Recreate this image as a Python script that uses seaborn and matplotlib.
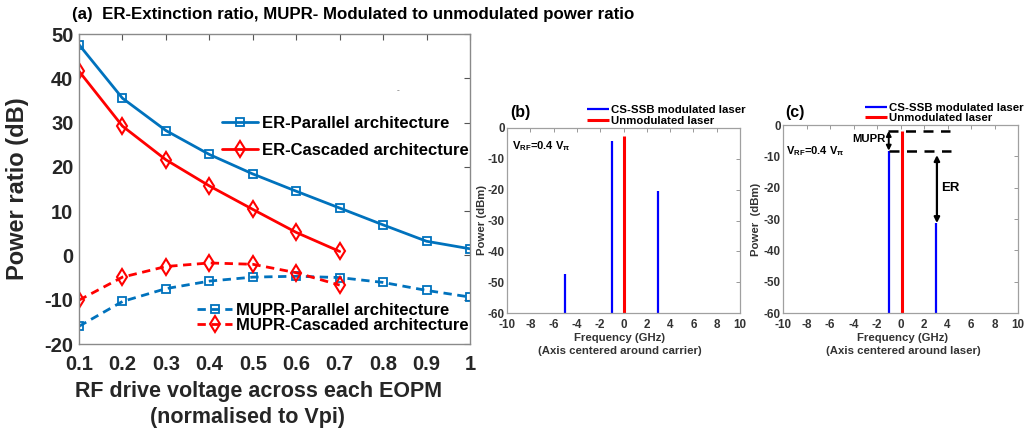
import matplotlib
matplotlib.use("Agg")
import matplotlib.pyplot as plt
import seaborn as sns

# ---------------- data ----------------
# Panel (a)
rf_voltage = [0.1, 0.2, 0.3, 0.4, 0.5, 0.6, 0.7, 0.8, 0.9, 1.0]
x_tick_labels = ["0.1", "0.2", "0.3", "0.4", "0.5", "0.6", "0.7", "0.8", "0.9", "1"]
er_parallel = [47.6, 35.5, 28.2, 22.8, 18.4, 14.5, 10.7, 6.9, 3.2, 1.5]
er_cascaded = [41.6, 29.2, 21.6, 15.7, 10.4, 5.2, 0.9]
mupr_parallel = [-16.0, -10.4, -7.5, -5.8, -4.9, -4.7, -5.0, -6.1, -7.9, -9.4]
mupr_cascaded = [-10.1, -4.9, -2.5, -1.7, -2.0, -3.9, -6.7]
series_labels = ["ER-Parallel architecture", "ER-Cascaded architecture",
                 "MUPR-Parallel architecture", "MUPR-Cascaded architecture"]

# Panel (b)
b_mod_freq = [-5, -1, 3]
b_mod_power = [-47.5, -4.2, -20.3]
b_unmod_freq = [0.05]
b_unmod_power = [-2.6]

# Panel (c)
c_mod_freq = [-1, 3]
c_mod_power = [-8.2, -31.3]
c_unmod_freq = [0.1]
c_unmod_power = [-1.9]

freq_ticks = [-10, -8, -6, -4, -2, 0, 2, 4, 6, 8, 10]
power_ticks = [-60, -50, -40, -30, -20, -10, 0]
spec_labels = ["CS-SSB modulated laser", "Unmodulated laser"]

# ---------------- style ----------------
sns.set_theme(style="white")
plt.rcParams["font.family"] = ["Liberation Sans", "DejaVu Sans"]
plt.rcParams["font.weight"] = "bold"
plt.rcParams["mathtext.fontset"] = "custom"
plt.rcParams["mathtext.rm"] = "Liberation Sans:bold"
plt.rcParams["mathtext.bf"] = "Liberation Sans:bold"
plt.rcParams["mathtext.it"] = "Liberation Sans:bold"

W, H = 1028, 432
fig = plt.figure(figsize=(W / 100, H / 100), dpi=100)
fig.patch.set_facecolor("white")

TXT = "#262626"
BLUE_A = "#0072BD"
RED = "#FF0000"
BLUE = "#0000FF"


def fx(px):
    return px / W


def fy(py):
    return 1 - py / H


# ---------------- panel (a) ----------------
ax = fig.add_axes([fx(79), fy(344), 391 / W, 310 / H])
sq = dict(marker="s", markersize=6, markerfacecolor="none", markeredgewidth=1.3)
di = dict(marker="d", markersize=8, markerfacecolor="none", markeredgewidth=1.5)
sns.lineplot(x=rf_voltage, y=er_parallel, ax=ax, color=BLUE_A, linewidth=2,
             markeredgecolor=BLUE_A, label=series_labels[0], **sq)
sns.lineplot(x=rf_voltage[:len(er_cascaded)], y=er_cascaded, ax=ax, color=RED,
             linewidth=2, markeredgecolor=RED, label=series_labels[1], **di)
sns.lineplot(x=rf_voltage, y=mupr_parallel, ax=ax, color=BLUE_A, linewidth=2,
             linestyle=(0, (3, 2)), markeredgecolor=BLUE_A, label=series_labels[2], **sq)
sns.lineplot(x=rf_voltage[:len(mupr_cascaded)], y=mupr_cascaded, ax=ax, color=RED,
             linewidth=2, linestyle=(0, (3, 2)), markeredgecolor=RED,
             label=series_labels[3], **di)

ax.set_xlim(0.1, 1.0)
ax.set_ylim(-20, 50)
ax.set_xticks(rf_voltage)
ax.set_xticklabels(x_tick_labels)
ax.set_yticks([-20, -10, 0, 10, 20, 30, 40, 50])
ax.set_yticklabels(["-20", "-10", "0", "10", "20", "30", "40", "50"])
ax.tick_params(axis="both", direction="in", top=True, right=True, length=4,
               width=0.8, color="#555555", labelsize=14.5, labelcolor=TXT)
ax.tick_params(axis="x", pad=8)
ax.tick_params(axis="y", pad=4)
for s in ax.spines.values():
    s.set_color("#8a8a8a")
    s.set_linewidth(1.0)
ax.set_xlabel("")
ax.set_ylabel("")

handles, labels = ax.get_legend_handles_labels()
if ax.get_legend() is not None:
    ax.get_legend().remove()
leg1 = ax.legend(handles[:2], labels[:2], loc="center left",
                 bbox_to_anchor=(fx(222), fy(137)), bbox_transform=fig.transFigure,
                 frameon=False, fontsize=12, handlelength=2.15, handletextpad=0.25,
                 labelspacing=0.75, borderpad=0, borderaxespad=0)
for t in leg1.get_texts():
    t.set_color("black")
ax.add_artist(leg1)
leg2 = ax.legend(handles[2:], labels[2:], loc="center left",
                 bbox_to_anchor=(fx(197), fy(318)), bbox_transform=fig.transFigure,
                 frameon=False, fontsize=12, handlelength=2.1, handletextpad=0.25,
                 labelspacing=0.0, borderpad=0, borderaxespad=0)
for t in leg2.get_texts():
    t.set_color("black")

fig.text(fx(72), fy(15), "(a)  ER-Extinction ratio, MUPR- Modulated to unmodulated power ratio",
         ha="left", va="center", fontsize=12.2, fontweight="bold", color="black")
fig.text(fx(18), fy(189), "Power ratio (dB)", rotation=90, ha="center", va="center",
         fontsize=17, fontweight="bold", color=TXT)
fig.text(fx(259), fy(392), "RF drive voltage across each EOPM", ha="center", va="center",
         fontsize=15.5, fontweight="bold", color=TXT)
fig.text(fx(247), fy(417), "(normalised to Vpi)", ha="center", va="center",
         fontsize=15.5, fontweight="bold", color=TXT)
fig.text(fx(398), fy(91), "-", ha="center", va="center", fontsize=6, color="#888888")


# ---------------- spectra panels ----------------
def spectrum(axs, mod_f, mod_p, un_f, un_p):
    axs.vlines(mod_f, -60, mod_p, colors=BLUE, linewidth=1.6, label=spec_labels[0])
    axs.vlines(un_f, -60, un_p, colors=RED, linewidth=2.2, label=spec_labels[1])
    axs.set_xlim(-10, 10)
    axs.set_ylim(-60, 0)
    axs.set_xticks(freq_ticks)
    axs.set_xticklabels([str(v) for v in freq_ticks])
    axs.set_yticks(power_ticks)
    axs.set_yticklabels([str(v) for v in power_ticks])
    axs.tick_params(axis="both", direction="in", top=True, right=True, length=3,
                    width=0.6, color="#888888", labelsize=8.4, labelcolor="#333333")
    axs.tick_params(axis="x", pad=4.5)
    axs.tick_params(axis="y", pad=1.5)
    for s in axs.spines.values():
        s.set_color("#a0a0a0")
        s.set_linewidth(0.9)


axb = fig.add_axes([fx(507), fy(313), 233 / W, 185 / H])
spectrum(axb, b_mod_freq, b_mod_power, b_unmod_freq, b_unmod_power)
axc = fig.add_axes([fx(783), fy(313), 235 / W, 188 / H])
spectrum(axc, c_mod_freq, c_mod_power, c_unmod_freq, c_unmod_power)

for axs, lx, ly in [(axb, 587, 115.5), (axc, 865, 112.8)]:
    h, l = axs.get_legend_handles_labels()
    lg = axs.legend(h, l, loc="center left", bbox_to_anchor=(fx(lx), fy(ly)),
                    bbox_transform=fig.transFigure, frameon=False, fontsize=8.2,
                    handlelength=1.95, handletextpad=0.15, labelspacing=0.05,
                    borderpad=0, borderaxespad=0)
    for t in lg.get_texts():
        t.set_color("black")

vrf = r"$\mathbf{V_{RF}}$=0.4 $\mathbf{V_{\pi}}$"
axb.text(0.02, 0.9, vrf, transform=axb.transAxes, ha="left", va="center",
         fontsize=8, fontweight="bold", color="black")
axc.text(0.013, 0.863, vrf, transform=axc.transAxes, ha="left", va="center",
         fontsize=8, fontweight="bold", color="black")

fig.text(fx(510), fy(113), "(b)", ha="left", va="center", fontsize=11.5,
         fontweight="bold", color="black")
fig.text(fx(785), fy(113), "(c)", ha="left", va="center", fontsize=11.5,
         fontweight="bold", color="black")

for cx, line2 in [(620, "(Axis centered around carrier)"), (903, "(Axis centered around laser)")]:
    fig.text(fx(cx), fy(338), "Frequency (GHz)", ha="center", va="center",
             fontsize=8.2, fontweight="bold", color="#333333")
    fig.text(fx(cx), fy(351), line2, ha="center", va="center",
             fontsize=8.2, fontweight="bold", color="#333333")
fig.text(fx(482), fy(220), "Power (dBm)", rotation=90, ha="center", va="center",
         fontsize=8.2, fontweight="bold", color="#333333")
fig.text(fx(756), fy(219), "Power  (dBm)", rotation=90, ha="center", va="center",
         fontsize=8.2, fontweight="bold", color="#333333")

# annotations in (c)
mupr_levels = [c_unmod_power[0], c_mod_power[0]]
axc.hlines(mupr_levels, [-1.1, -1.0], [4.2, 4.3], colors="black", linewidth=1.8,
           linestyles=[(0, (4, 3))])
axc.annotate("", xy=(-1.0, mupr_levels[0]), xytext=(-1.0, mupr_levels[1]),
             arrowprops=dict(arrowstyle="<|-|>", color="black", lw=1.4,
                             mutation_scale=7, shrinkA=0, shrinkB=0))
axc.annotate("", xy=(3.1, -9.6), xytext=(3.1, c_mod_power[1]),
             arrowprops=dict(arrowstyle="<|-|>", color="black", lw=1.6,
                             mutation_scale=8, shrinkA=0, shrinkB=0))
axc.text(-1.3, -4.5, "MUPR", ha="right", va="center", fontsize=8.2,
         fontweight="bold", color="black")
axc.text(3.5, -20, "ER", ha="left", va="center", fontsize=9.5,
         fontweight="bold", color="black")

fig.savefig("out.png", dpi=100, facecolor="white")
